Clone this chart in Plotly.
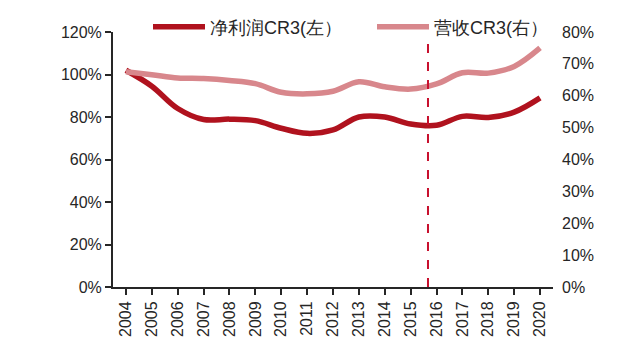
import plotly.graph_objects as go

years = [str(y) for y in range(2004, 2021)]
net_profit_cr3 = [102.0, 94.5, 84.0, 78.8, 79.0, 78.3, 74.7, 72.3, 73.9, 80.0, 80.0, 76.7, 76.1, 80.3, 79.8, 82.3, 89.0]
revenue_cr3 = [67.5, 66.6, 65.6, 65.4, 64.8, 63.8, 61.1, 60.6, 61.4, 64.4, 62.8, 62.1, 63.7, 67.2, 67.1, 69.2, 75.0]
left_ticks = [0, 20, 40, 60, 80, 100, 120]
right_ticks = [0, 10, 20, 30, 40, 50, 60, 70, 80]
divider_pos = 11.67  # between 2015 and 2016 (category index)
divider_top = 115

dark = "#B0121E"
pink = "#D8878C"
font = "Liberation Sans, Arial, sans-serif"

fig = go.Figure()
fig.add_trace(go.Scatter(x=list(range(len(years))), y=net_profit_cr3, name="净利润CR3(左）",
                         mode="lines", line=dict(color=dark, width=5.5, shape="spline", smoothing=1.0),
                         yaxis="y", legend="legend"))
fig.add_trace(go.Scatter(x=list(range(len(years))), y=revenue_cr3, name="营收CR3(右）",
                         mode="lines", line=dict(color=pink, width=5.5, shape="spline", smoothing=1.0),
                         yaxis="y2", legend="legend2"))

fig.add_shape(type="line", xref="x", yref="y", x0=divider_pos, x1=divider_pos, y0=0, y1=divider_top,
              line=dict(color="#C8102E", width=2, dash="dash"))

leg_common = dict(orientation="h", xref="container", yref="container",
                  y=1 - 27 / 355, xanchor="left", yanchor="middle",
                  font=dict(size=18, family=font, color="#262626"),
                  bgcolor="rgba(0,0,0,0)", itemwidth=52)

fig.update_layout(
    width=640, height=355,
    margin=dict(l=113, r=87, t=32, b=68, autoexpand=False),
    paper_bgcolor="white", plot_bgcolor="white",
    font=dict(family=font, size=16, color="#262626"),
    showlegend=True,
    legend=dict(x=148 / 640, **leg_common),
    legend2=dict(x=372 / 640, **leg_common),
    xaxis=dict(
        tickmode="array", tickvals=list(range(len(years))), ticktext=years,
        range=[-0.5, len(years) - 0.5],
        tickangle=-90, showgrid=False, zeroline=False,
        showline=True, linecolor="#262626", linewidth=2,
        ticks="outside", ticklen=6, tickcolor="#262626", tickwidth=1.5,
        tickfont=dict(size=16),
    ),
    yaxis=dict(
        range=[0, 120], tickvals=left_ticks, ticktext=[f"{v}%" for v in left_ticks],
        showgrid=False, zeroline=False, showline=True, linecolor="#262626", linewidth=2,
        ticks="outside", ticklen=6, tickcolor="#262626", tickwidth=1.5,
        tickfont=dict(size=16),
    ),
    yaxis2=dict(
        range=[0, 80], tickvals=right_ticks, ticktext=[f"{v}%" for v in right_ticks],
        overlaying="y", side="right", showgrid=False, zeroline=False, showline=False,
        ticks="", ticklabelstandoff=8, tickfont=dict(size=16),
    ),
)

fig.write_html("out.html", config={"displayModeBar": False},
               post_script="document.body.style.margin='0';")
